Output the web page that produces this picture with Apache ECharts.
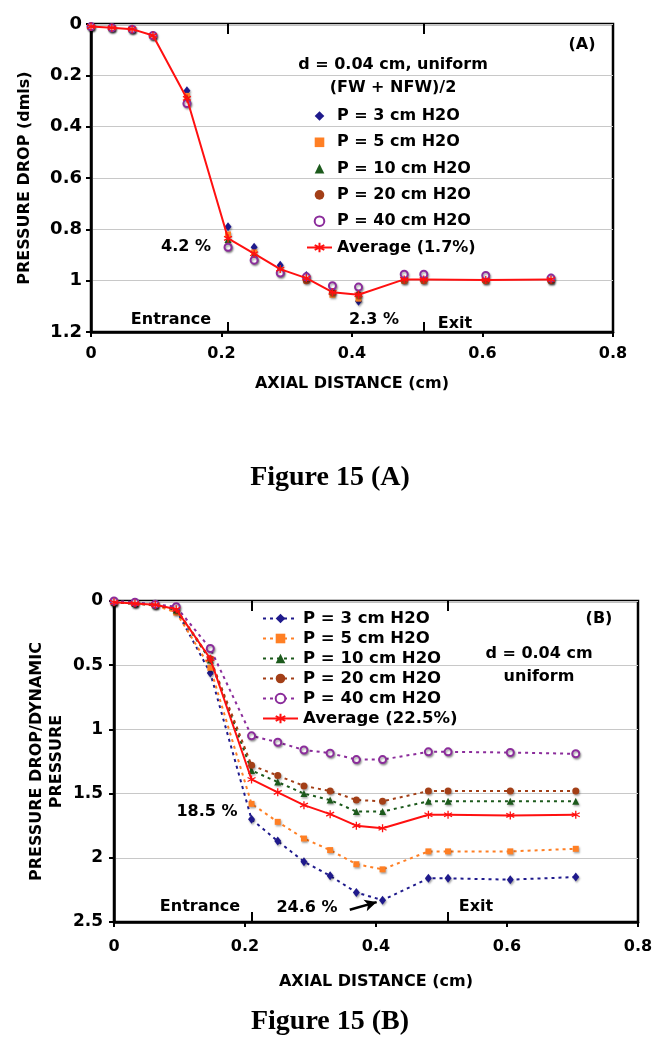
<!DOCTYPE html>
<html><head><meta charset="utf-8">
<script src="https://cdn.jsdelivr.net/npm/echarts@6/dist/echarts.min.js"></script>
<style>html,body{margin:0;padding:0;background:#fff}#c{width:671px;height:1050px}</style>
</head><body><div id="c"></div>
<script>
// ---- data ----
const axialDistance = [0, 0.032, 0.063, 0.095, 0.147, 0.21, 0.25, 0.29, 0.33, 0.37, 0.41, 0.48, 0.51, 0.605, 0.705];
const seriesNames = ['P = 3 cm H2O', 'P = 5 cm H2O', 'P = 10 cm H2O', 'P = 20 cm H2O', 'P = 40 cm H2O'];
const avgNameA = 'Average (1.7%)';
const avgNameB = 'Average (22.5%)';
// Panel A: pressure drop (dmls), (FW + NFW)/2
const dropA_P3  = [0.01, 0.015, 0.02, 0.045, 0.26, 0.79, 0.87, 0.94, 0.98, 1.04, 1.08, 0.99, 0.99, 0.99, 0.99];
const dropA_P5  = [0.01, 0.015, 0.02, 0.045, 0.28, 0.82, 0.89, 0.96, 0.995, 1.055, 1.07, 1.0, 1.0, 1.0, 1.0];
const dropA_P10 = [0.01, 0.015, 0.02, 0.045, 0.29, 0.84, 0.90, 0.955, 0.99, 1.04, 1.05, 0.99, 0.985, 0.995, 0.995];
const dropA_P20 = [0.01, 0.015, 0.02, 0.045, 0.305, 0.865, 0.915, 0.965, 1.0, 1.045, 1.055, 1.0, 1.0, 1.0, 1.0];
const dropA_P40 = [0.01, 0.015, 0.02, 0.045, 0.31, 0.87, 0.92, 0.97, 0.985, 1.02, 1.025, 0.975, 0.975, 0.98, 0.99];
const dropA_Avg = [0.01, 0.015, 0.02, 0.045, 0.29, 0.835, 0.895, 0.955, 0.99, 1.045, 1.055, 0.995, 0.995, 0.997, 0.995];
// Panel B: pressure drop / dynamic pressure
const dropB_P3  = [0.01, 0.02, 0.03, 0.07, 0.56, 1.70, 1.87, 2.03, 2.14, 2.27, 2.33, 2.16, 2.16, 2.17, 2.15];
const dropB_P5  = [0.01, 0.02, 0.035, 0.09, 0.52, 1.58, 1.72, 1.85, 1.94, 2.05, 2.09, 1.95, 1.95, 1.95, 1.93];
const dropB_P10 = [0.01, 0.02, 0.03, 0.07, 0.46, 1.32, 1.41, 1.50, 1.55, 1.64, 1.64, 1.56, 1.56, 1.56, 1.56];
const dropB_P20 = [0.01, 0.02, 0.03, 0.06, 0.45, 1.28, 1.36, 1.44, 1.48, 1.55, 1.56, 1.48, 1.48, 1.48, 1.48];
const dropB_P40 = [0.0, 0.01, 0.025, 0.045, 0.37, 1.05, 1.10, 1.16, 1.185, 1.235, 1.235, 1.175, 1.175, 1.18, 1.19];
const dropB_Avg = [0.01, 0.02, 0.03, 0.065, 0.45, 1.39, 1.49, 1.59, 1.66, 1.75, 1.77, 1.665, 1.665, 1.67, 1.665];
const entranceX = 0.21;
const exitX = 0.51;
const arrowB = [[0.36, 2.405], [0.401, 2.345]];
// ---- style ----
const FONT = '"DejaVu Sans", Verdana, sans-serif';
const colors = ['#1f1a8c', '#ff7f24', '#1c5a1c', '#a33f17', '#8b2c9b'];
const avgColor = '#ff1010';
const symbols = ['diamond', 'rect', 'triangle', 'circle', 'emptyCircle'];
const symSizes = [[7, 9], 6, 7, 7, 7];
const asterisk = 'path://M5,0L5,10M0.7,2.5L9.3,7.5M0.7,7.5L9.3,2.5';
const shadow = {shadowColor: 'rgba(0,0,0,0.35)', shadowBlur: 2, shadowOffsetX: 1, shadowOffsetY: 1.5};
const pair = arr => axialDistance.map((x, i) => [x, arr[i]]);
const dataA = [dropA_P3, dropA_P5, dropA_P10, dropA_P20, dropA_P40];
const dataB = [dropB_P3, dropB_P5, dropB_P10, dropB_P20, dropB_P40];
const SUFB = ' \u200b';

function axisCommon(extra) {
  return Object.assign({
    axisLine: {show: true, onZero: false, lineStyle: {color: '#000', width: 2.5}},
    axisTick: {show: true, inside: false, length: 5, lineStyle: {color: '#000', width: 2}},
    axisLabel: {color: '#000', fontFamily: FONT, fontWeight: 'bold', fontSize: 16},
    nameTextStyle: {color: '#000', fontFamily: FONT, fontWeight: 'bold', fontSize: 16},
    nameLocation: 'middle'
  }, extra);
}

function markers(yMin, yMax, len) {
  const l = {symbol: 'none', silent: true, animation: false, label: {show: false},
    lineStyle: {color: '#000', width: 2, type: 'solid'}, data: []};
  [entranceX, exitX].forEach(x => {
    l.data.push([{coord: [x, yMin]}, {coord: [x, yMin + len]}]);
    l.data.push([{coord: [x, yMax - len]}, {coord: [x, yMax]}]);
  });
  return l;
}
function markerStyle(i) {
  return Object.assign({color: colors[i], borderColor: colors[i], borderWidth: i === 4 ? 1.2 : 0, opacity: 1}, shadow);
}

const series = [];
dataA.forEach((d, i) => {
  series.push({
    type: 'line', name: seriesNames[i], xAxisIndex: 0, yAxisIndex: 0,
    data: pair(d), symbol: symbols[i], symbolSize: symSizes[i], showSymbol: true,
    lineStyle: {width: 0, opacity: 0, color: colors[i]},
    itemStyle: markerStyle(i),
    z: 3
  });
});
series.push({
  type: 'line', name: avgNameA, xAxisIndex: 0, yAxisIndex: 0, data: pair(dropA_Avg),
  symbol: asterisk, symbolSize: 8, showSymbol: true,
  lineStyle: {color: avgColor, width: 2}, itemStyle: {color: avgColor, borderColor: avgColor, borderWidth: 1.3},
  z: 4, markLine: markers(0, 1.2, 0.039)
});
dataB.forEach((d, i) => {
  series.push({
    type: 'line', name: seriesNames[i] + SUFB, xAxisIndex: 1, yAxisIndex: 1,
    data: pair(d), symbol: symbols[i], symbolSize: symSizes[i], showSymbol: true,
    lineStyle: {color: colors[i], width: 2, type: [3, 4]},
    itemStyle: markerStyle(i),
    z: 3
  });
});
series.push({
  type: 'line', name: avgNameB, xAxisIndex: 1, yAxisIndex: 1, data: pair(dropB_Avg),
  symbol: asterisk, symbolSize: 8, showSymbol: true,
  lineStyle: {color: avgColor, width: 2}, itemStyle: {color: avgColor, borderColor: avgColor, borderWidth: 1.3},
  z: 4,
  markLine: markers(0, 2.5, 0.078)
});
series.push({
  type: 'line', name: 'arrow', xAxisIndex: 1, yAxisIndex: 1, data: [],
  markLine: {silent: true, animation: false, symbol: ['none', 'arrow'], symbolSize: [9, 12], label: {show: false},
    lineStyle: {color: '#000', width: 2.5, type: 'solid'},
    data: [[{coord: arrowB[0]}, {coord: arrowB[1]}]]}
});

const legendText = {color: '#000', fontFamily: FONT, fontWeight: 'bold', fontSize: 16};
const txt = (t, x, y, size, family, align) => ({
  type: 'text', x: x, y: y, silent: true,
  style: {text: t, fill: '#000', font: 'bold ' + (size || 16) + 'px ' + (family || FONT),
    align: align || 'center', verticalAlign: 'middle', textAlign: align || 'center', textVerticalAlign: 'middle'}
});

const option = {
  animation: false,
  backgroundColor: '#fff',
  grid: [
    {left: 91, top: 24, width: 522, height: 308, show: true, borderColor: '#000', borderWidth: 2.5},
    {left: 114, top: 601, width: 524, height: 321, show: true, borderColor: '#000', borderWidth: 2.5}
  ],
  xAxis: [
    axisCommon({gridIndex: 0, type: 'value', min: 0, max: 0.8, interval: 0.2, splitLine: {show: false},
      name: 'AXIAL DISTANCE (cm)', nameGap: 44, axisLabel: Object.assign({}, axisCommon({}).axisLabel, {margin: 14})}),
    axisCommon({gridIndex: 1, type: 'value', min: 0, max: 0.8, interval: 0.2, splitLine: {show: false},
      name: 'AXIAL DISTANCE (cm)', nameGap: 52, axisLabel: Object.assign({}, axisCommon({}).axisLabel, {margin: 17})})
  ],
  yAxis: [
    axisCommon({gridIndex: 0, type: 'value', min: 0, max: 1.2, interval: 0.2, inverse: true,
      splitLine: {show: true, lineStyle: {color: '#c8c8c8', width: 1}},
      name: 'PRESSURE DROP (dmls)', nameGap: 58,
      axisLabel: Object.assign({}, axisCommon({}).axisLabel, {fontSize: 18, margin: 9})}),
    axisCommon({gridIndex: 1, type: 'value', min: 0, max: 2.5, interval: 0.5, inverse: true,
      splitLine: {show: true, lineStyle: {color: '#c8c8c8', width: 1}},
      name: 'PRESSURE DROP/DYNAMIC\nPRESSURE', nameGap: 47, nameMoveOverlap: false,
      nameTextStyle: {color: '#000', fontFamily: FONT, fontWeight: 'bold', fontSize: 16, lineHeight: 20},
      axisLabel: Object.assign({}, axisCommon({}).axisLabel, {fontSize: 17, margin: 11})})
  ],
  legend: [
    {data: seriesNames.concat([avgNameA]), orient: 'vertical', left: 301, top: 103,
      itemWidth: 25, itemHeight: 12, itemGap: 10.3, textStyle: legendText, selectedMode: false},
    {data: seriesNames.map(n => n + SUFB).concat([avgNameB]), orient: 'vertical', left: 257, top: 605,
      itemWidth: 35, itemHeight: 12, itemGap: 3, textStyle: Object.assign({}, legendText, {fontSize: 16.5}),
      selectedMode: false, formatter: n => n.replace(SUFB, '')}
  ],
  graphic: [
    txt('(A)', 582, 45),
    txt('d = 0.04 cm, uniform', 393, 65),
    txt('(FW + NFW)/2', 393, 88),
    txt('4.2 %', 186, 247),
    txt('Entrance', 171, 320),
    txt('2.3 %', 374, 320),
    txt('Exit', 455, 324),
    txt('Figure 15 (A)', 330, 478, 28, '"Liberation Serif", "Times New Roman", serif'),
    txt('(B)', 599, 619),
    txt('d = 0.04 cm', 539, 654),
    txt('uniform', 539, 677),
    txt('18.5 %', 207, 812),
    txt('Entrance', 200, 907),
    txt('24.6 %', 307, 908),
    txt('Exit', 476, 907),
    txt('Figure 15 (B)', 330, 1022, 28, '"Liberation Serif", "Times New Roman", serif')
  ],
  series: series
};
const chart = echarts.init(document.getElementById('c'), null, {renderer: 'canvas'});
chart.setOption(option);
</script></body></html>
